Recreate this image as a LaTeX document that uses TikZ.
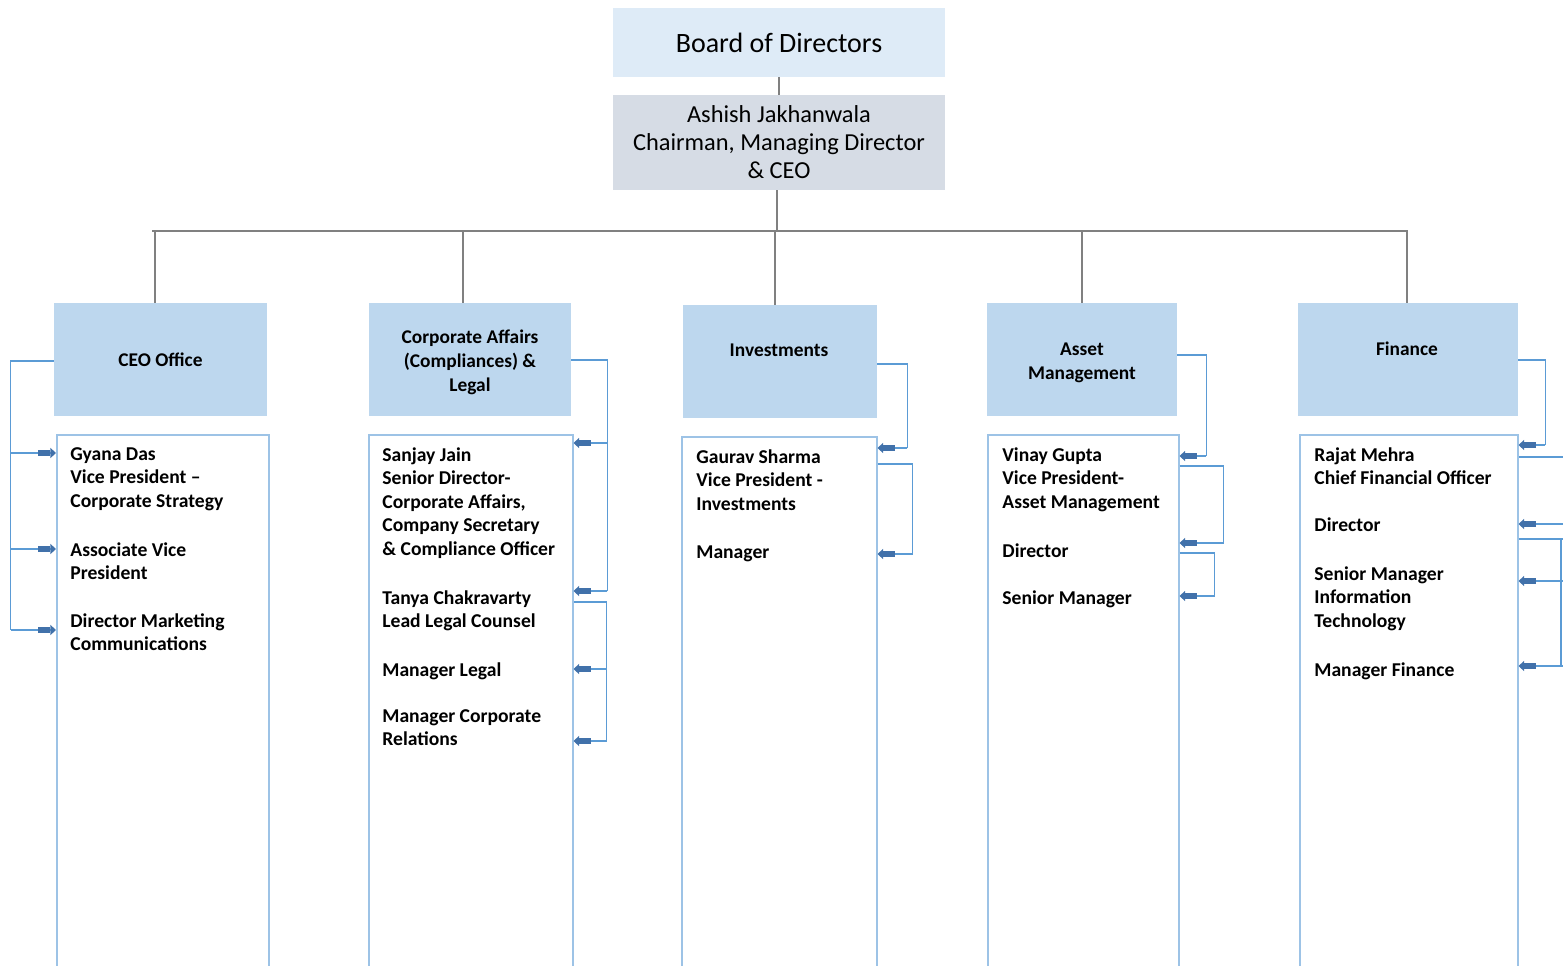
\documentclass[tikz,border=0pt]{standalone}
\usepackage{fontspec}
\setmainfont{Carlito}
\usepackage{tikz}
\usetikzlibrary{arrows.meta,calc,positioning}
\definecolor{CajaTop}{RGB}{222,235,247}
\definecolor{CajaJefe}{RGB}{214,220,229}
\definecolor{CajaArea}{RGB}{189,215,238}
\definecolor{BordeArea}{RGB}{157,195,230}
\definecolor{LineaAzul}{RGB}{91,155,213}
\definecolor{PuntaAzul}{RGB}{65,113,170}
\definecolor{LineaGris}{RGB}{128,128,128}

\tikzset{
  topbox/.style={fill=CajaTop,inner sep=0pt,minimum width=166pt,font=\fontsize{14}{17}\selectfont},
  headtext/.style={inner sep=0pt,align=center,font=\bfseries\fontsize{9.7}{12}\selectfont},
  head/.style={fill=CajaArea,inner sep=0pt,minimum height=56.5pt},
  staff/.style={draw=BordeArea,line width=0.75pt,anchor=north west,inner sep=0pt,minimum height=300pt},
  who/.style={anchor=north west,inner sep=0pt,align=left,font=\bfseries\fontsize{9.8}{11.75}\selectfont},
  org/.style={draw=LineaGris,line width=0.8pt},
  link/.style={draw=LineaAzul,line width=0.8pt},
  arr/.style={link,-{Rectangle[length=6pt,width=3pt,sep=0pt,fill=PuntaAzul,color=PuntaAzul]Triangle[length=2.8pt,width=5pt,fill=PuntaAzul,color=PuntaAzul]}}
}

\begin{document}
\begin{tikzpicture}[x=0.5pt,y=-0.5pt]
  \clip (0,0) rectangle (1563,965);

  % top of the chart
  \node[topbox,minimum height=34.5pt] (bod) at (779,42.5) {Board of Directors};
  \node[topbox,fill=CajaJefe,minimum height=47.5pt,align=center,font=\fontsize{12.2}{14}\selectfont]
    (chair) at (779,142.5) {Ashish Jakhanwala\\Chairman, Managing Director\\\& CEO};

  % areas
  \node[head,minimum width=106.5pt] (ceoh) at (160.5,359.5) {};
  \node[head,minimum width=101pt] (cah) at (470,359.5) {};
  \node[head,minimum width=97pt] (invh) at (780,361.5) {};
  \node[head,minimum width=95pt] (amh) at (1082,359.5) {};
  \node[head,minimum width=110pt] (finh) at (1408,359.5) {};
  \node[headtext] (ceot) at (160.5,360) {CEO Office};
  \node[headtext] (cat) at (470,362.5) {Corporate Affairs\\(Compliances) \&\\Legal};
  \node[headtext] (invt) at (779,350) {Investments};
  \node[headtext] (amt) at (1082,362.5) {Asset\\Management};
  \node[headtext] (fint) at (1407,349) {Finance};

  \draw[org] (bod) -- (chair);
  \draw[org] (chair.south -| 777,0) -- (777,231);
  \draw[org] (152,231) -- (1408,231);
  \foreach \h/\x in {ceoh/155,cah/463,invh/775,amh/1082,finh/1407}
    \draw[org] (\h.north -| \x,0) -- (\x,231);

  % people
  \node[staff,minimum width=106pt] (ceob) at (56,434) {};
  \node[staff,minimum width=102pt] (cab) at (368,434) {};
  \node[staff,minimum width=97.5pt] (invb) at (681,436) {};
  \node[staff,minimum width=95.5pt] (amb) at (987,434) {};
  \node[staff,minimum width=109pt] (finb) at (1299,434) {};

  \node[who] (gyana) at (70,447) {Gyana Das\\Vice President –\\Corporate Strategy};
  \node[who] (avp) at (70,542) {Associate Vice\\President};
  \node[who] (dmc) at (70,613) {Director Marketing\\Communications};

  \node[who] (sanjay) at (382,447) {Sanjay Jain\\Senior Director-\\Corporate Affairs,\\Company Secretary\\\& Compliance Officer};
  \node[who] (tanya) at (382,590) {Tanya Chakravarty\\Lead Legal Counsel};
  \node[who] (mlegal) at (382,662) {Manager Legal};
  \node[who] (mcr) at (382,709) {Manager Corporate\\Relations};

  \node[who] (gaurav) at (696,449) {Gaurav Sharma\\Vice President -\\Investments};
  \node[who] (minv) at (696,545) {Manager};

  \node[who] (vinay) at (1002,447) {Vinay Gupta\\Vice President-\\Asset Management};
  \node[who] (dam) at (1002,543) {Director};
  \node[who] (smam) at (1002,590) {Senior Manager};

  \node[who] (rajat) at (1314,447) {Rajat Mehra\\Chief Financial Officer};
  \node[who] (dfin) at (1314,517) {Director};
  \node[who] (smit) at (1314,566) {Senior Manager\\Information\\Technology};
  \node[who] (mfin) at (1314,662) {Manager Finance};

  % reporting lines
  \draw[link] (ceoh.west |- 0,361) -- ++(-43,0) coordinate (ceo-bk) -- (ceo-bk |- 0,630);
  \foreach \y in {453,549,630}
    \draw[arr] (ceo-bk |- 0,\y) -- (ceob.west |- 0,\y);

  \draw[link] (cah.east |- 0,360) -- ++(36,0) coordinate (ca-bk1) -- (ca-bk1 |- 0,591);
  \foreach \y in {443,591}
    \draw[arr] (ca-bk1 |- 0,\y) -- (cab.east |- 0,\y);
  \draw[link] (cab.east |- 0,602) -- ++(33,0) coordinate (ca-bk2) -- (ca-bk2 |- 0,741);
  \foreach \y in {669,741}
    \draw[arr] (ca-bk2 |- 0,\y) -- (cab.east |- 0,\y);

  \draw[link] (invh.east |- 0,364) -- ++(30,0) coordinate (inv-bk1) -- (inv-bk1 |- 0,448);
  \draw[arr] (inv-bk1 |- 0,448) -- (invb.east |- 0,448);
  \draw[link] (invb.east |- 0,464) -- ++(35,0) coordinate (inv-bk2) -- (inv-bk2 |- 0,554);
  \draw[arr] (inv-bk2 |- 0,554) -- (invb.east |- 0,554);

  \draw[link] (amh.east |- 0,355) -- ++(29,0) coordinate (am-bk1) -- (am-bk1 |- 0,456);
  \draw[arr] (am-bk1 |- 0,456) -- (amb.east |- 0,456);
  \draw[link] (amb.east |- 0,466) -- ++(44,0) coordinate (am-bk2) -- (am-bk2 |- 0,543);
  \draw[arr] (am-bk2 |- 0,543) -- (amb.east |- 0,543);
  \draw[link] (amb.east |- 0,553) -- ++(35,0) coordinate (am-bk3) -- (am-bk3 |- 0,596);
  \draw[arr] (am-bk3 |- 0,596) -- (amb.east |- 0,596);

  \draw[link] (finh.east |- 0,360) -- ++(27,0) coordinate (fin-bk1) -- (fin-bk1 |- 0,445);
  \draw[arr] (fin-bk1 |- 0,445) -- (finb.east |- 0,445);
  \draw[link] (finb.east |- 0,457) -- ++(80,0);
  \draw[arr] ($(finb.east |- 0,524)+(80,0)$) -- (finb.east |- 0,524);
  \draw[link] (finb.east |- 0,539) -- ++(80,0);
  \coordinate (fin-bk2) at (1561,539);
  \draw[link] (fin-bk2) -- (fin-bk2 |- 0,666);
  \foreach \y in {581,666}
    \draw[arr] ($(finb.east |- 0,\y)+(80,0)$) -- (finb.east |- 0,\y);
\end{tikzpicture}
\end{document}
